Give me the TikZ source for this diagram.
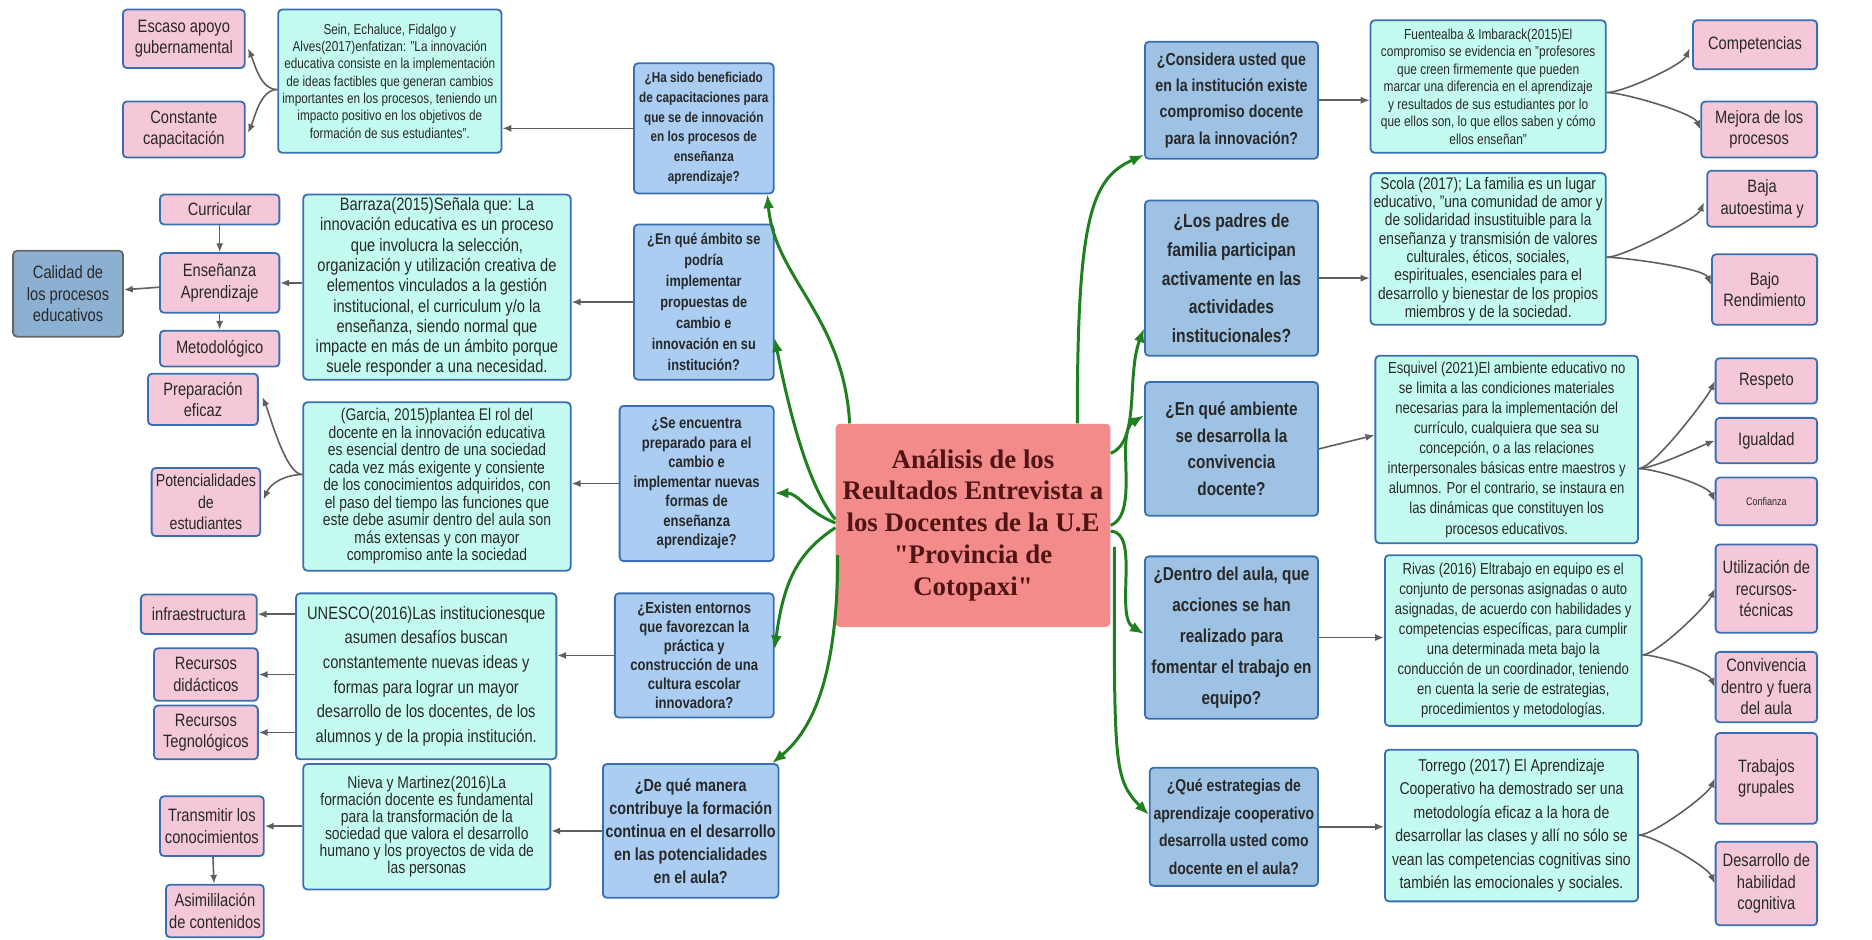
\documentclass[tikz,border=0pt]{standalone}
\usepackage{fontspec}
\setmainfont{Liberation Sans}[FakeStretch=0.82]
\newfontfamily\titlefont{Liberation Serif}
\usetikzlibrary{arrows,arrows.meta,calc}

\definecolor{pinkfill}{RGB}{244,200,216}
\definecolor{cyanfill}{RGB}{196,251,240}
\definecolor{qfill}{RGB}{170,205,241}
\definecolor{rqfill}{RGB}{158,194,228}
\definecolor{calfill}{RGB}{140,176,210}
\definecolor{edgeblue}{RGB}{58,110,178}
\definecolor{rootfill}{RGB}{243,139,139}
\definecolor{roottext}{RGB}{80,20,20}
\definecolor{mapgreen}{RGB}{30,128,30}
\definecolor{arrowgray}{RGB}{95,95,95}
\definecolor{txtgray}{RGB}{40,40,40}

\tikzstyle{mapbox}=[rectangle, rounded corners=2pt, draw=edgeblue, line width=0.9pt,
align=center, inner sep=1pt, text=txtgray]
\tikzstyle{leafbox}=[mapbox, fill=pinkfill, font=\fontsize{9}{10.8}\selectfont]
\tikzstyle{quotebox}=[mapbox, fill=cyanfill]
\tikzstyle{askbox}=[mapbox, fill=qfill]
\tikzstyle{raskbox}=[mapbox, fill=rqfill]
\tikzstyle{linkarrow}=[draw=arrowgray, line width=0.8pt, ->, >={Latex[length=4.5pt,width=3.6pt]}]
\tikzstyle{greenlink}=[draw=mapgreen, line width=1.5pt, ->, >={Latex[length=7pt,width=5.5pt]}]

% box from corner (x1,y1) to corner (x2,y2), in pixels of the map
\newcommand{\boxnode}[7]{%
\path ({(#3+#5)/2},{(#4+#6)/2}) node[#1, minimum width={(#5-#3)*0.6pt},
minimum height={(#6-#4)*0.6pt}] (#2) {#7};}
\def\bq#1#2{\bfseries\fontsize{#1}{#2}\selectfont}
\def\fq#1#2{\fontsize{#1}{#2}\selectfont}

\begin{document}
\begin{tikzpicture}[x=0.6pt, y=-0.6pt]
\useasboundingbox (0,0) rectangle (1568,787);

% Root
\path (815,440) node[rectangle, rounded corners=2pt, fill=rootfill, text=roottext,
minimum width=138pt, minimum height=102pt, align=center,
font=\titlefont\bfseries\fontsize{13.5}{16}\selectfont] (ctr)
{Análisis de los\\Reultados Entrevista a\\los Docentes de la U.E\\"Provincia de\\Cotopaxi"};

% Question 1
\boxnode{askbox, font=\bq{7.2}{10}}{q1}{531}{53}{648}{162}{¿Ha sido beneficiado\\de capacitaciones para\\que se de innovación\\en los procesos de\\enseñanza\\aprendizaje?}
\boxnode{quotebox, font=\fq{7.2}{8.7}}{sein}{233}{8}{420}{128}{Sein, Echaluce, Fidalgo y\\Alves(2017)enfatizan: "La innovación\\educativa consiste en la implementación\\de ideas factibles que generan cambios\\importantes en los procesos, teniendo un\\impacto positivo en los objetivos de\\formación de sus estudiantes".}
\boxnode{leafbox}{esc}{103}{8}{205}{57}{Escaso apoyo\\gubernamental}
\boxnode{leafbox}{cons}{103}{85}{205}{132}{Constante\\capacitación}

% Question 2
\boxnode{askbox, font=\bq{7.8}{10.5}}{q2}{531}{188}{648}{318}{¿En qué ámbito se\\podría\\implementar\\propuestas de\\cambio e\\innovación en su\\institución?}
\boxnode{quotebox, font=\fq{9}{10.2}}{barr}{254}{163}{478}{318}{Barraza(2015)Señala que: La\\innovación educativa es un proceso\\que involucra la selección,\\organización y utilización creativa de\\elementos vinculados a la gestión\\institucional, el curriculum y/o la\\enseñanza, siendo normal que\\impacte en más de un ámbito porque\\suele responder a una necesidad.}
\boxnode{leafbox}{curr}{134}{163}{234}{188}{Curricular}
\boxnode{leafbox}{ense}{134}{212}{234}{262}{Enseñanza\\Aprendizaje}
\boxnode{leafbox}{meto}{134}{277}{234}{307}{Metodológico}
\boxnode{leafbox, fill=calfill, draw=black!60}{cal}{11}{210}{103}{282}{Calidad de\\los procesos\\educativos}

% Question 3
\boxnode{askbox, font=\bq{8}{9.8}}{q3}{519}{340}{648}{470}{¿Se encuentra\\preparado para el\\cambio e\\implementar nuevas\\formas de\\enseñanza\\aprendizaje?}
\boxnode{quotebox, font=\fq{8.5}{8.8}}{garc}{254}{337}{478}{478}{(Garcia, 2015)plantea El rol del\\docente en la innovación educativa\\es esencial dentro de una sociedad\\cada vez más exigente y consiente\\de los conocimientos adquiridos, con\\el paso del tiempo las funciones que\\este debe asumir dentro del aula son\\más extensas y con mayor\\compromiso ante la sociedad}
\boxnode{leafbox}{prep}{124}{313}{216}{356}{Preparación\\eficaz}
\boxnode{leafbox, font=\fq{8.7}{10.8}}{pot}{127}{392}{218}{449}{Potencialidades\\de\\estudiantes}

% Question 4
\boxnode{askbox, font=\bq{8}{9.6}}{q4}{515}{497}{648}{601}{¿Existen entornos\\que favorezcan la\\práctica y\\construcción de una\\cultura escolar\\innovadora?}
\boxnode{quotebox, font=\fq{9}{12.4}}{unes}{248}{497}{466}{636}{UNESCO(2016)Las institucionesque\\asumen desafíos buscan\\constantemente nuevas ideas y\\formas para lograr un mayor\\desarrollo de los docentes, de los\\alumnos y de la propia institución.}
\boxnode{leafbox}{infra}{118}{498}{215}{531}{infraestructura}
\boxnode{leafbox}{rdid}{129}{543}{216}{587}{Recursos\\didácticos}
\boxnode{leafbox}{rteg}{129}{591}{216}{636}{Recursos\\Tegnológicos}

% Question 5
\boxnode{askbox, font=\bq{8.8}{11.5}}{q5}{505}{640}{652}{752}{¿De qué manera\\contribuye la formación\\continua en el desarrollo\\en las potencialidades\\en el aula?}
\boxnode{quotebox, font=\fq{8.5}{8.6}}{niev}{254}{640}{461}{745}{Nieva y Martinez(2016)La\\formación docente es fundamental\\para la transformación de la\\sociedad que valora el desarrollo\\humano y los proyectos de vida de\\las personas}
\boxnode{leafbox}{trans}{134}{667}{221}{717}{Transmitir los\\conocimientos}
\boxnode{leafbox}{asim}{139}{741}{221}{785}{Asimililación\\de contenidos}

% Right question 1
\boxnode{raskbox, font=\bq{8.7}{13.2}}{r1}{959}{35}{1104}{133}{¿Considera usted que\\en la institución existe\\compromiso docente\\para la innovación?}
\boxnode{quotebox, font=\fq{7.3}{8.8}}{fuen}{1148}{17}{1345}{128}{Fuentealba \& Imbarack(2015)El\\compromiso se evidencia en "profesores\\que creen firmemente que pueden\\marcar una diferencia en el aprendizaje\\y resultados de sus estudiantes por lo\\que ellos son, lo que ellos saben y cómo\\ellos enseñan"}
\boxnode{leafbox}{comp}{1418}{17}{1522}{58}{Competencias}
\boxnode{leafbox}{mejo}{1425}{85}{1522}{132}{Mejora de los\\procesos}

% Right question 2
\boxnode{raskbox, font=\bq{9.6}{14.5}}{r2}{959}{168}{1104}{298}{¿Los padres de\\familia participan\\activamente en las\\actividades\\institucionales?}
\boxnode{quotebox, font=\fq{8.4}{9.2}}{scol}{1148}{145}{1345}{272}{Scola (2017); La familia es un lugar\\educativo, "una comunidad de amor y\\de solidaridad insustituible para la\\enseñanza y transmisión de valores\\culturales, éticos, sociales,\\espirituales, esenciales para el\\desarrollo y bienestar de los propios\\miembros y de la sociedad.}
\boxnode{leafbox}{baja}{1430}{143}{1522}{190}{Baja\\autoestima y}
\boxnode{leafbox}{bajo}{1434}{213}{1522}{272}{Bajo\\Rendimiento}

% Right question 3
\boxnode{raskbox, font=\bq{9.4}{13.3}}{r3}{959}{320}{1104}{432}{¿En qué ambiente\\se desarrolla la\\convivencia\\docente?}
\boxnode{quotebox, font=\fq{8}{10.1}}{esqu}{1152}{298}{1372}{455}{Esquivel (2021)El ambiente educativo no\\se limita a las condiciones materiales\\necesarias para la implementación del\\currículo, cualquiera que sea su\\concepción, o a las relaciones\\interpersonales básicas entre maestros y\\alumnos. Por el contrario, se instaura en\\las dinámicas que constituyen los\\procesos educativos.}
\boxnode{leafbox}{resp}{1437}{300}{1522}{338}{Respeto}
\boxnode{leafbox}{igua}{1437}{350}{1522}{388}{Igualdad}
\boxnode{leafbox, font=\fq{5.5}{7}}{conf}{1437}{400}{1522}{440}{Confianza}

% Right question 4
\boxnode{raskbox, font=\bq{9.4}{15.6}}{r4}{959}{466}{1104}{602}{¿Dentro del aula, que\\acciones se han\\realizado para\\fomentar el trabajo en\\equipo?}
\boxnode{quotebox, font=\fq{8}{10.1}}{riva}{1160}{465}{1375}{608}{Rivas (2016) Eltrabajo en equipo es el\\conjunto de personas asignadas o auto\\asignadas, de acuerdo con habilidades y\\competencias específicas, para cumplir\\una determinada meta bajo la\\conducción de un coordinador, teniendo\\en cuenta la serie de estrategias,\\procedimientos y metodologías.}
\boxnode{leafbox}{util}{1437}{456}{1522}{530}{Utilización de\\recursos-\\técnicas}
\boxnode{leafbox}{conv}{1437}{546}{1522}{605}{Convivencia\\dentro y fuera\\del aula}

% Right question 5
\boxnode{raskbox, font=\bq{8.6}{14}}{r5}{963}{643}{1104}{742}{¿Qué estrategias de\\aprendizaje cooperativo\\desarrolla usted como\\docente en el aula?}
\boxnode{quotebox, font=\fq{8.6}{11.8}}{torr}{1160}{628}{1372}{755}{Torrego (2017) El Aprendizaje\\Cooperativo ha demostrado ser una\\metodología eficaz a la hora de\\desarrollar las clases y allí no sólo se\\vean las competencias cognitivas sino\\también las emocionales y sociales.}
\boxnode{leafbox}{trab}{1437}{614}{1522}{690}{Trabajos\\grupales}
\boxnode{leafbox}{desa}{1437}{705}{1522}{775}{Desarrollo de\\habilidad\\cognitiva}

% Green branches, left
\draw[greenlink] ($(ctr.north west)+(12,0)$) .. controls +(-5,-90) and +(6,70) .. ($(q1.south east)+(-6,0)$);
\draw[greenlink] ($(ctr.west)+(0,-5)$) .. controls +(-25,-30) and +(10,50) .. ($(q2.east)+(0,30)$);
\draw[greenlink] ($(ctr.west)+(0,-2)$) .. controls +(-25,-10) and +(20,0) .. ($(q3.east)+(0,8)$);
\draw[greenlink] ($(ctr.west)+(0,2)$) .. controls +(-30,20) and +(8,-60) .. ($(q4.east)+(0,-5)$);
\draw[greenlink] ($(ctr.west)+(2,25)$) .. controls +(0,110) and +(30,-25) .. ($(q5.north east)+(-6,0)$);

% Green branches, right
\draw[greenlink] ($(ctr.north east)+(-28,0)$) .. controls +(0,-170) and +(-45,20) .. ($(r1.south west)+(0,-4)$);
\draw[greenlink] ($(ctr.north east)+(0,25)$) .. controls +(25,-10) and +(-15,40) .. ($(r2.west)+(0,42)$);
\draw[greenlink] (ctr.east) .. controls +(25,-10) and +(-25,15) .. ($(r3.west)+(0,-28)$);
\draw[greenlink] ($(ctr.east)+(0,5)$) .. controls +(25,0) and +(-25,-15) .. ($(r4.west)+(0,-3)$);
\draw[greenlink] ($(ctr.east)+(3,18)$) .. controls +(0,180) and +(-30,-30) .. ($(r5.west)+(0,-10)$);

% Left links
\draw[linkarrow] (q1.west) -- (q1.west -| sein.east);
\draw[linkarrow] ($(sein.west)+(0,7)$) .. controls +(-14,0) and +(6,14) .. ($(esc.east)+(2,8)$);
\draw[linkarrow] ($(sein.west)+(0,7)$) .. controls +(-14,0) and +(6,-14) .. ($(cons.east)+(2,3)$);
\draw[linkarrow] (q2.west) -- (q2.west -| barr.east);
\draw[linkarrow] (ense.east -| barr.west) -- (ense.east);
\draw[linkarrow] (curr) -- (ense);
\draw[linkarrow] (ense) -- (meto);
\draw[linkarrow] (ense) -- (cal);
\draw[linkarrow] (q3.west) -- (q3.west -| garc.east);
\draw[linkarrow] ($(garc.west)+(0,-10)$) .. controls +(-14,0) and +(6,14) .. ($(prep.east)+(3,-2)$);
\draw[linkarrow] ($(garc.west)+(0,-10)$) .. controls +(-14,0) and +(6,-14) .. ($(pot.east)+(2,-2)$);
\draw[linkarrow] (q4.west) -- (q4.west -| unes.east);
\draw[linkarrow] (infra.east -| unes.west) -- (infra.east);
\draw[linkarrow] (rdid.east -| unes.west) -- (rdid.east);
\draw[linkarrow] (rteg.east -| unes.west) -- (rteg.east);
\draw[linkarrow] (q5.west) -- (q5.west -| niev.east);
\draw[linkarrow] (trans.east -| niev.west) -- (trans.east);
\draw[linkarrow] (trans) -- (asim);

% Right links
\draw[linkarrow] (r1.east) -- (r1.east -| fuen.west);
\draw[linkarrow] ($(fuen.east)+(0,5)$) .. controls +(14,0) and +(-6,14) .. ($(comp.west)+(-2,3)$);
\draw[linkarrow] ($(fuen.east)+(0,5)$) .. controls +(14,0) and +(-6,-14) .. (mejo.west);
\draw[linkarrow] (r2.east) -- (r2.east -| scol.west);
\draw[linkarrow] ($(scol.east)+(0,7)$) .. controls +(14,0) and +(-6,14) .. ($(baja.west)+(-2,3)$);
\draw[linkarrow] ($(scol.east)+(0,7)$) .. controls +(14,0) and +(-6,-14) .. ($(bajo.west)+(0,-4)$);
\draw[linkarrow] (r3.east) -- ($(esqu.west)+(0,-12)$);
\draw[linkarrow] ($(esqu.east)+(0,16)$) .. controls +(12,0) and +(-6,14) .. (resp.west);
\draw[linkarrow] ($(esqu.east)+(0,16)$) .. controls +(12,0) and +(-10,4) .. (igua.west);
\draw[linkarrow] ($(esqu.east)+(0,16)$) .. controls +(12,0) and +(-6,-14) .. (conf.west);
\draw[linkarrow] (r4.east) -- (r4.east -| riva.west);
\draw[linkarrow] ($(riva.east)+(0,12)$) .. controls +(12,0) and +(-6,14) .. (util.west);
\draw[linkarrow] ($(riva.east)+(0,12)$) .. controls +(12,0) and +(-6,-14) .. (conv.west);
\draw[linkarrow] (r5.east) -- (r5.east -| torr.west);
\draw[linkarrow] ($(torr.east)+(0,8)$) .. controls +(12,0) and +(-6,14) .. (trab.west);
\draw[linkarrow] ($(torr.east)+(0,8)$) .. controls +(12,0) and +(-6,-14) .. (desa.west);

\end{tikzpicture}
\end{document}
